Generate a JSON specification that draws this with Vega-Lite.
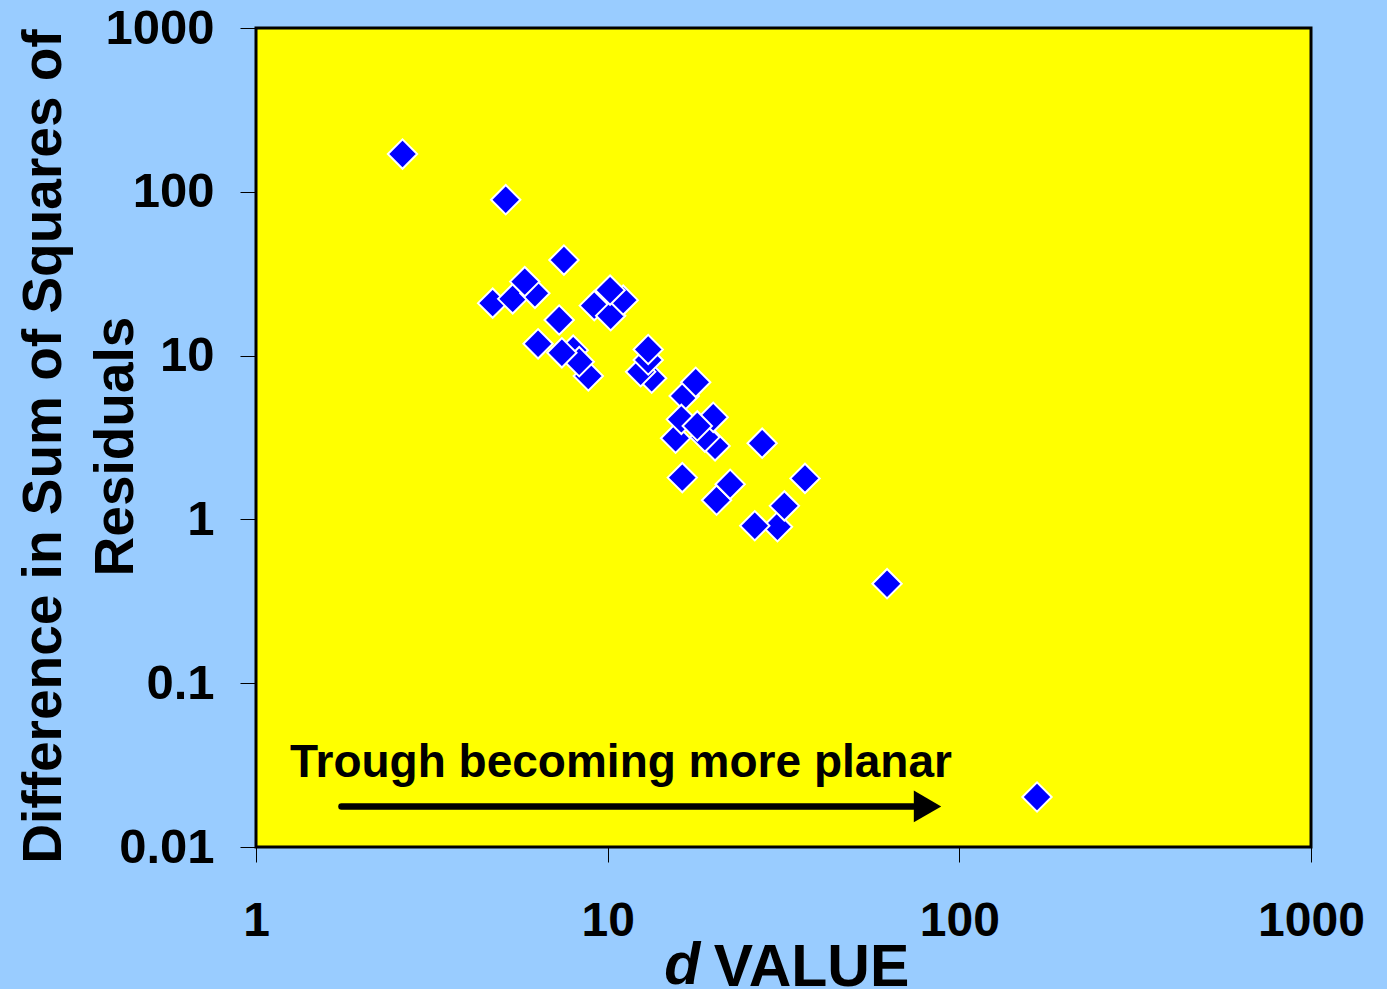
{
  "$schema": "https://vega.github.io/schema/vega-lite/v6.json",
  "width": 1055,
  "height": 819,
  "autosize": {"type": "none"},
  "padding": {"left": 256, "top": 28, "right": 76, "bottom": 142},
  "background": "#99CCFF",
  "config": {
    "view": {"fill": "#FFFF00", "stroke": "#000000", "strokeWidth": 3},
    "font": "Liberation Sans"
  },
  "datasets": {
    "points": [
      {"x": 2.61, "y": 170},
      {"x": 5.13, "y": 89.5},
      {"x": 7.51, "y": 38.3},
      {"x": 4.71, "y": 20.9},
      {"x": 5.37, "y": 22.2},
      {"x": 6.21, "y": 24.0},
      {"x": 5.81, "y": 28.3},
      {"x": 7.28, "y": 16.5},
      {"x": 6.34, "y": 11.8},
      {"x": 7.98, "y": 10.8},
      {"x": 8.81, "y": 7.51},
      {"x": 8.30, "y": 9.18},
      {"x": 7.41, "y": 10.4},
      {"x": 9.16, "y": 20.2},
      {"x": 10.2, "y": 17.5},
      {"x": 11.07, "y": 21.8},
      {"x": 10.16, "y": 25.1},
      {"x": 13.34, "y": 7.27},
      {"x": 12.41, "y": 7.97},
      {"x": 13.04, "y": 9.40},
      {"x": 13.04, "y": 10.9},
      {"x": 16.5, "y": 5.67},
      {"x": 17.8, "y": 6.87},
      {"x": 15.6, "y": 3.13},
      {"x": 20.2, "y": 2.81},
      {"x": 18.9, "y": 3.18},
      {"x": 16.2, "y": 4.08},
      {"x": 19.96, "y": 4.20},
      {"x": 17.98, "y": 3.72},
      {"x": 27.5, "y": 2.92},
      {"x": 16.3, "y": 1.80},
      {"x": 20.4, "y": 1.31},
      {"x": 22.3, "y": 1.64},
      {"x": 36.4, "y": 1.78},
      {"x": 30.4, "y": 0.902},
      {"x": 31.8, "y": 1.21},
      {"x": 26.2, "y": 0.915},
      {"x": 62.3, "y": 0.405},
      {"x": 166.3, "y": 0.0202}
    ],
    "note": [{"x": 1.249, "y": 0.02675, "label": "Trough becoming more planar"}],
    "arrow": [{"x": 1.75, "x2": 74, "y": 0.0177}],
    "head": [{"x": 81.2, "y": 0.0177}],
    "dlabel": [{"x": 16.3, "y": 0.00146, "label": "d"}]
  },
  "encoding": {
    "x": {
      "field": "x",
      "type": "quantitative",
      "scale": {"type": "log", "domain": [1, 1000], "nice": false, "zero": false},
      "axis": {
        "values": [1, 10, 100, 1000],
        "format": "~g",
        "grid": false,
        "domain": false,
        "ticks": true,
        "tickSize": 15,
        "tickColor": "#000000",
        "tickWidth": 1,
        "labelFont": "Liberation Sans",
        "labelFontSize": 48,
        "labelFontWeight": "bold",
        "labelColor": "#000000",
        "labelPadding": 35,
        "labelFlush": false,
        "labelOverlap": false,
        "labelBound": false,
        "title": "VALUE",
        "titleFont": "Liberation Sans",
        "titleFontSize": 59,
        "titleFontWeight": "bold",
        "titleColor": "#000000",
        "titleX": 555,
        "titleY": 138,
        "titleAlign": "center",
        "titleBaseline": "alphabetic",
        "titleAnchor": null
      }
    },
    "y": {
      "field": "y",
      "type": "quantitative",
      "scale": {"type": "log", "domain": [0.01, 1000], "nice": false, "zero": false},
      "axis": {
        "values": [0.01, 0.1, 1, 10, 100, 1000],
        "format": "~g",
        "grid": false,
        "domain": false,
        "ticks": true,
        "tickSize": 16,
        "tickColor": "#000000",
        "tickWidth": 1,
        "labelFont": "Liberation Sans",
        "labelFontSize": 49,
        "labelFontWeight": "bold",
        "labelColor": "#000000",
        "labelPadding": 26,
        "labelFlush": false,
        "labelOverlap": false,
        "labelBound": false,
        "title": ["Difference in Sum of Squares of", "Residuals"],
        "titleFont": "Liberation Sans",
        "titleFontSize": 55,
        "titleFontWeight": "bold",
        "titleColor": "#000000",
        "titleLineHeight": 72,
        "titleAngle": -90,
        "titleX": -196,
        "titleY": 418,
        "titleAlign": "center",
        "titleBaseline": "alphabetic",
        "titleAnchor": null
      }
    }
  },
  "layer": [
    {
      "data": {"name": "points"},
      "mark": {"type": "point", "shape": "diamond", "filled": true, "size": 860, "fill": "#0000FF", "stroke": "#FFFFFF", "strokeWidth": 2, "opacity": 1}
    },
    {
      "data": {"name": "note"},
      "mark": {"type": "text", "align": "left", "baseline": "alphabetic", "font": "Liberation Sans", "fontSize": 46, "fontWeight": "bold", "color": "#000000"},
      "encoding": {"text": {"field": "label"}}
    },
    {
      "data": {"name": "arrow"},
      "mark": {"type": "rule", "color": "#000000", "strokeWidth": 6.5, "strokeCap": "round"},
      "encoding": {"x2": {"field": "x2"}}
    },
    {
      "data": {"name": "head"},
      "mark": {"type": "point", "shape": "triangle-right", "filled": true, "size": 1000, "fill": "#000000", "strokeWidth": 0, "opacity": 1}
    },
    {
      "data": {"name": "dlabel"},
      "mark": {"type": "text", "align": "center", "baseline": "alphabetic", "font": "Liberation Sans", "fontSize": 59, "fontWeight": "bold", "fontStyle": "italic", "color": "#000000"},
      "encoding": {"text": {"field": "label"}}
    }
  ]
}
